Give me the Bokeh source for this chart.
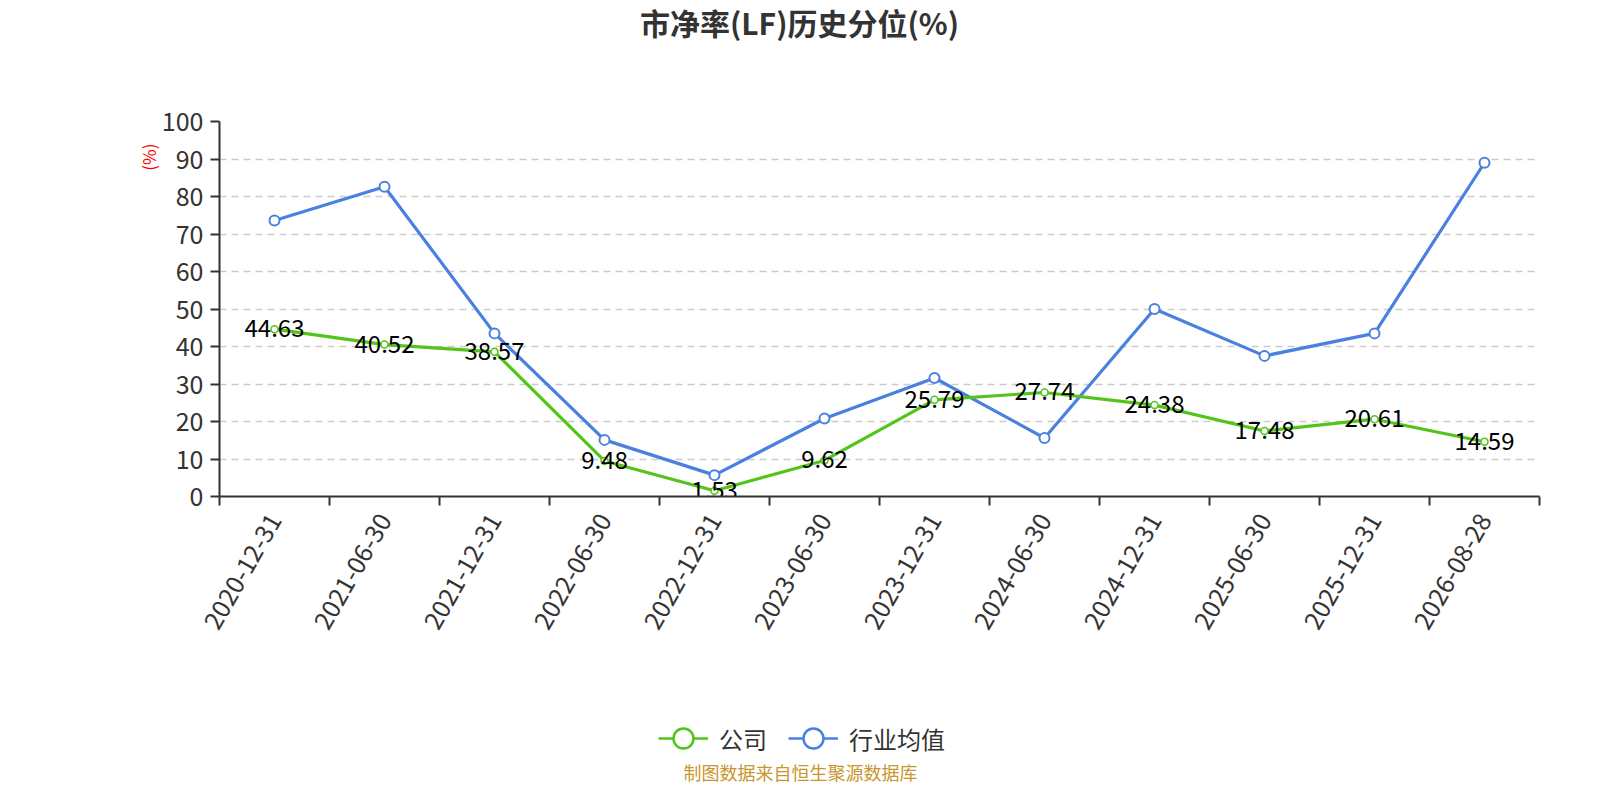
import math
from bokeh.plotting import figure
from bokeh.models import (Range1d, FixedTicker, Legend, LegendItem,
                          ColumnDataSource, Title, Label)
from bokeh.layouts import column
from bokeh.core.properties import value
from bokeh.embed import file_html
from bokeh.resources import INLINE

categories = ["2020-12-31", "2021-06-30", "2021-12-31", "2022-06-30", "2022-12-31",
              "2023-06-30", "2023-12-31", "2024-06-30", "2024-12-31", "2025-06-30",
              "2025-12-31", "2026-08-28"]
company = [44.63, 40.52, 38.57, 9.48, 1.53, 9.62, 25.79, 27.74, 24.38, 17.48, 20.61, 14.59]
industry = [73.6, 82.6, 43.5, 15.1, 5.7, 20.8, 31.6, 15.6, 50.0, 37.5, 43.5, 89.0]
y_ticks = [0, 10, 20, 30, 40, 50, 60, 70, 80, 90, 100]

title_text = "市净率(LF)历史分位(%)"
series_names = ["公司", "行业均值"]
y_name = "(%)"
footer_text = "制图数据来自恒生聚源数据库"

GREEN = "#52C41A"
BLUE = "#4A80E0"
FONT = "Noto Sans CJK SC"
TXT = "#333333"

W = 1584
H_TOP, H_MAIN, H_BOT = 50, 650, 84
n = len(categories)
xs = [i + 0.5 for i in range(n)]

# page-pixel positions of the plotting frame
FL, FR, FT, FB = 219, 1539, 121, 496


def strip(h):
    # frames of a column are aligned with the main chart's frame, so the
    # x range is expressed in page pixels across that frame
    f = figure(width=W, height=h, output_backend="svg", toolbar_location=None,
               x_range=Range1d(FL, FR), y_range=Range1d(0, h),
               x_axis_location=None, y_axis_location=None, min_border=0)
    f.outline_line_color = None
    f.grid.grid_line_color = None
    f.background_fill_color = "white"
    f.border_fill_color = "white"
    return f


# ---------- title strip ----------
top = strip(H_TOP)
top.add_layout(Label(x=799, y=H_TOP - 21.5, text=title_text, text_align="center",
                     text_baseline="middle", text_font=FONT, text_font_size="30px",
                     text_font_style="bold", text_color=TXT))

# ---------- main chart ----------
p = figure(width=W, height=H_MAIN, output_backend="svg", toolbar_location=None,
           x_range=Range1d(0, n), y_range=Range1d(0, 100),
           min_border_left=FL, min_border_right=W - FR,
           min_border_top=FT - H_TOP, min_border_bottom=H_MAIN - (FB - H_TOP))
p.outline_line_color = None
p.background_fill_color = "white"
p.border_fill_color = "white"

xa = p.xaxis[0]
xa.ticker = FixedTicker(ticks=xs, minor_ticks=list(range(n + 1)))
xa.major_label_overrides = {x: c for x, c in zip(xs, categories)}
xa.major_tick_line_color = None
xa.major_tick_out = 0
xa.major_tick_in = 0
xa.minor_tick_line_color = TXT
xa.minor_tick_out = 9
xa.minor_tick_in = 0
xa.minor_tick_line_width = 2
xa.axis_line_color = TXT
xa.axis_line_width = 2
xa.major_label_orientation = math.pi / 3
xa.major_label_text_font = FONT
xa.major_label_text_font_size = "25px"
xa.major_label_text_color = TXT
xa.major_label_standoff = 10

ya = p.yaxis[0]
ya.ticker = FixedTicker(ticks=y_ticks)
ya.minor_tick_line_color = None
ya.major_tick_line_color = TXT
ya.major_tick_line_width = 2
ya.major_tick_out = 9
ya.major_tick_in = 0
ya.axis_line_color = TXT
ya.axis_line_width = 2
ya.major_label_text_font = FONT
ya.major_label_text_font_size = "25px"
ya.major_label_text_color = TXT
ya.major_label_standoff = 7

p.xgrid.grid_line_color = None
p.ygrid.ticker = FixedTicker(ticks=y_ticks[1:])
p.ygrid.grid_line_color = "#CCCCCC"
p.ygrid.grid_line_dash = "7 5"
p.ygrid.grid_line_width = 1.5

src = ColumnDataSource(dict(x=xs, c=company, ind=industry,
                            lab=[f"{v:.2f}" for v in company]))

p.line("x", "ind", source=src, line_color=BLUE, line_width=3.2)
p.scatter("x", "ind", source=src, size=10, marker="circle", fill_color="white",
          line_color=BLUE, line_width=2)
p.line("x", "c", source=src, line_color=GREEN, line_width=3.2)
p.scatter("x", "c", source=src, size=7, marker="circle", fill_color="white",
          line_color=GREEN, line_width=1.5)
p.text("x", "c", text="lab", source=src, text_align="center", text_baseline="middle",
       text_font=value(FONT), text_font_size="24px", text_color="black", y_offset=-1)

p.add_layout(Title(text=y_name, align="right", offset=22, standoff=-4,
                   text_font=FONT, text_font_size="17px", text_font_style="normal",
                   text_color="red"), "left")

# ---------- legend + footer strip ----------
bot = strip(H_BOT)
nan = float("nan")
dummy = ColumnDataSource(dict(x=[nan], y=[nan]))
gl = bot.line("x", "y", source=dummy, line_color=GREEN, line_width=2.5)
gs = bot.scatter("x", "y", source=dummy, size=21, marker="circle", fill_color="white",
                 line_color=GREEN, line_width=2.5)
bl = bot.line("x", "y", source=dummy, line_color=BLUE, line_width=2.5)
bs = bot.scatter("x", "y", source=dummy, size=21, marker="circle", fill_color="white",
                 line_color=BLUE, line_width=2.5)
GH = 62
legend_y_center = 738 - (H_TOP + H_MAIN)
legend = Legend(items=[LegendItem(label=series_names[0], renderers=[gl, gs]),
                       LegendItem(label=series_names[1], renderers=[bl, bs])],
                orientation="horizontal",
                location=(658 - FL, H_BOT - legend_y_center - GH / 2),
                glyph_width=50, glyph_height=GH, label_height=GH,
                label_text_font=FONT, label_text_font_size="24px",
                label_text_color=TXT, background_fill_alpha=0,
                border_line_color=None, spacing=21, label_standoff=11,
                padding=0, margin=0)
bot.add_layout(legend, "center")
bot.add_layout(Label(x=800, y=13, text=footer_text, text_align="center",
                     text_baseline="middle", text_font=FONT, text_font_size="18px",
                     text_color="#C9952E"))

layout = column(top, p, bot, spacing=0)
open("out.html", "w").write(file_html(layout, INLINE))
